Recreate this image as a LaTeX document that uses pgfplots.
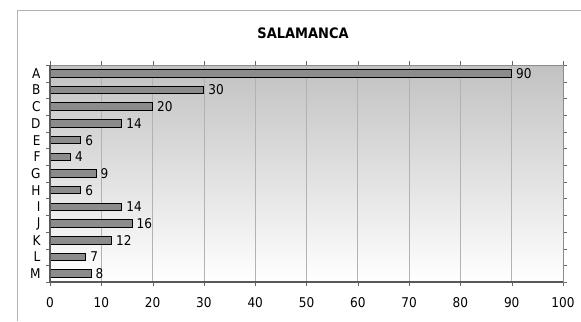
\documentclass[border=0pt]{standalone}
\usepackage{fontspec}
\setmainfont{DejaVu Sans Condensed}
\usepackage{pgfplots}
\pgfplotsset{compat=1.18}
\begin{document}
\begin{tikzpicture}[x=1bp,y=1bp]
\path[use as bounding box] (0,0) rectangle (581,321);
% chart frame
\draw[black!30, line width=1bp] (17,0) -- (17,310) -- (581,310);
\node[font=\bfseries\fontsize{14.5}{14.5}\selectfont] at (303,288) {SALAMANCA};
\begin{axis}[
  at={(50bp,39bp)}, anchor=south west,
  scale only axis, width=513bp, height=217bp,
  xbar, bar width=7.5bp,
  xmin=0, xmax=100, xtick={0,10,...,100},
  ymin=-0.5, ymax=12.5, y dir=reverse,
  ytick={0,...,12},
  yticklabels={A,B,C,D,E,F,G,H,I,J,K,L,M},
  minor ytick={-0.5,0.5,...,12.5},
  major y tick style={draw=none},
  minor y tick style={black!60},
  major x tick style={black!60},
  major tick length=4bp, minor tick length=4bp,
  tick align=outside,
  xmajorgrids, grid style={black!30, line width=0.8bp},
  axis background/.style={top color=black!24, bottom color=white},
  axis line style={black!45, line width=1bp},
  /pgf/number format/assume math mode=true,
  ticklabel style={font=\fontsize{13.5}{13.5}\selectfont},
  xticklabel style={yshift=-8bp},
  yticklabel style={xshift=-2bp},
  nodes near coords,
  nodes near coords style={font=\fontsize{13.5}{13.5}\selectfont, anchor=west, inner sep=1bp, xshift=3bp},
]
\addplot[fill=black!45, draw=black, line width=1bp] coordinates {
  (90,0) (30,1) (20,2) (14,3) (6,4) (4,5) (9,6) (6,7) (14,8) (16,9) (12,10) (7,11) (8,12)
};
\end{axis}
% darker left and bottom axis lines
\draw[black!65, line width=1.5bp] (50,256) -- (50,39) -- (563,39);
\end{tikzpicture}
\end{document}
